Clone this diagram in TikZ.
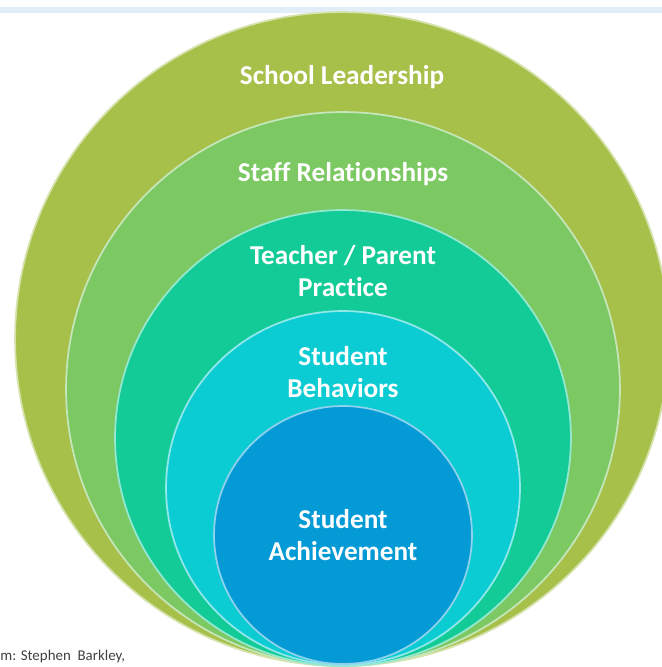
\documentclass[tikz,border=0pt]{standalone}
\usepackage{fontspec}
\setmainfont{Carlito}[RawFeature=-liga]
\usetikzlibrary{positioning}
\definecolor{leadgreen}{HTML}{A7C04A}
\definecolor{staffgreen}{HTML}{7CC863}
\definecolor{practeal}{HTML}{13CB96}
\definecolor{behavcyan}{HTML}{0BCBD3}
\definecolor{achblue}{HTML}{049AD5}
\definecolor{barblue}{HTML}{E2EEF7}
\tikzset{
	ringstyle/.style={
		circle,
		inner sep=0pt,
		fill=#1,
		draw=#1!45!white,
		line width=1pt},
	ringtext/.style={
		text=white,
		align=center,
		font=\fontsize{15.5}{18.5}\selectfont\bfseries}}

\begin{document}
\begin{tikzpicture}[x=0.02cm, y=-0.02cm]
	\useasboundingbox (0,0) rectangle (662,667);
	\clip (0,0) rectangle (662,667);
	
	% top bar
	\fill[barblue] (0,7) rectangle (662,13);
	
	% the rings, largest first
	\node[ringstyle=leadgreen, minimum size=13.08cm] (lead) at (342,339) {};
	\node[ringstyle=staffgreen, minimum size=11.08cm] (staff) at (343,389) {};
	\node[ringstyle=practeal, minimum size=9.12cm] (prac) at (343,438) {};
	\node[ringstyle=behavcyan, minimum size=7.08cm] (behav) at (343,488) {};
	\node[ringstyle=achblue, minimum size=5.16cm] (ach) at (343,535) {};
	
	\node[ringtext] (leadtext) at (342,77) {School Leadership};
	\node[ringtext] (stafftext) at (343,174) {Staff Relationships};
	\node[ringtext] (practext) at (343,271) {Teacher / Parent\\Practice};
	\node[ringtext] (behavtext) at (343,372) {Student\\Behaviors};
	\node[ringtext] (achtext) at (343,535) {Student\\Achievement};
	
	% source line, cut at the left edge
	\node[anchor=west, inner sep=0pt, text=black!75, font=\fontsize{8.5}{10}\selectfont] (src) at (0,657) {m: Stephen\ \ Barkley,};
	
\end{tikzpicture}
\end{document}
